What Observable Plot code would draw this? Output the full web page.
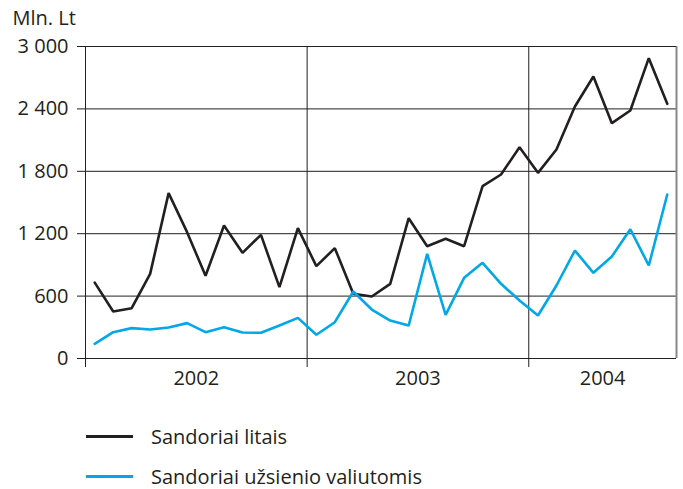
<!DOCTYPE html>
<html>
<head>
<meta charset="utf-8">
<script src="https://cdn.jsdelivr.net/npm/d3@7"></script>
<script src="https://cdn.jsdelivr.net/npm/@observablehq/plot@0.6"></script>
<style>
  body { margin: 0; background: #fff; font-family: "Open Sans", sans-serif; color: #231f20; }
  #legend { position: relative; height: 89px; width: 683px; }
  .row { position: absolute; left: 86px; display: flex; align-items: center; font-size: 20px; }
  .sw { width: 47px; height: 0; border-top: 3px solid; margin-right: 18px; }
</style>
</head>
<body>
<div id="chart"></div>
<div id="legend"></div>
<script>
// Monthly data, Jan 2002 – Aug 2004 (mln. Lt)
const months = d3.range(32);
const yearLabels = ["2002", "2003", "2004"];
const yearStarts = [0, 12, 24, 32];
const seriesNames = ["Sandoriai litais", "Sandoriai užsienio valiutomis"];
const seriesColors = ["#231f20", "#00a8e8"];
const litais = [730, 452, 484, 814, 1590, 1215, 795, 1279, 1016, 1189, 686, 1253,
                888, 1061, 622, 596, 718, 1349, 1080, 1151, 1080, 1657, 1769, 2032,
                1785, 2010, 2423, 2712, 2263, 2385, 2888, 2449];
const valiuta = [141, 253, 292, 279, 298, 340, 253, 301, 250, 247, 317, 391,
                 228, 349, 644, 471, 365, 317, 1006, 420, 776, 920, 718, 558,
                 413, 702, 1038, 824, 981, 1243, 894, 1577];
const yTicks = [0, 600, 1200, 1800, 2400, 3000];

const data = [];
months.forEach((m, i) => {
  data.push({x: m + 0.5, y: litais[i], s: seriesNames[0]});
  data.push({x: m + 0.5, y: valiuta[i], s: seriesNames[1]});
});
const yearMid = yearLabels.map((t, i) => ({x: (yearStarts[i] + yearStarts[i + 1]) / 2, t}));
const fmt = d => d3.format(",")(d).replace(/,/g, " ");

const plot = Plot.plot({
  width: 683,
  height: 400,
  marginLeft: 85,
  marginRight: 7,
  marginTop: 46,
  marginBottom: 42,
  style: {fontFamily: "Open Sans, sans-serif", fontSize: "20px", color: "#231f20", background: "#fff"},
  x: {domain: [0, 32]},
  y: {domain: [0, 3000]},
  color: {domain: seriesNames, range: seriesColors},
  marks: [
    Plot.gridY(yTicks, {stroke: "#231f20", strokeOpacity: 1, strokeWidth: 1}),
    Plot.ruleX([0, 12, 24], {stroke: "#231f20", strokeWidth: 1}),
    Plot.ruleX([32], {stroke: "#888", strokeWidth: 2}),
    Plot.ruleY([0, 3000], {stroke: "#231f20", strokeWidth: 1.2}),
    Plot.axisY({ticks: yTicks, tickFormat: fmt, tickSize: 8, tickPadding: 9, label: null, stroke: "#231f20", fontSize: 20}),
    Plot.axisX({ticks: [0, 12, 24], tickSize: 9, tickFormat: () => "", label: null, stroke: "#231f20"}),
    Plot.text(yearMid, {x: "x", frameAnchor: "bottom", text: "t", dy: 26, fontSize: 20}),
    Plot.text(["Mln. Lt"], {frameAnchor: "top-left", dx: -73, dy: -36, textAnchor: "start", lineAnchor: "top", fontSize: 20}),
    Plot.line(data, {x: "x", y: "y", stroke: "s", z: "s", strokeWidth: 2.6, strokeLinejoin: "miter"})
  ]
});
document.getElementById("chart").appendChild(plot);

const legend = document.getElementById("legend");
seriesNames.forEach((name, i) => {
  const row = document.createElement("div");
  row.className = "row";
  row.style.top = (i === 0 ? 23 : 63) + "px";
  const sw = document.createElement("span");
  sw.className = "sw";
  sw.style.borderColor = seriesColors[i];
  const t = document.createElement("span");
  t.textContent = name;
  row.appendChild(sw);
  row.appendChild(t);
  legend.appendChild(row);
});
</script>
</body>
</html>
